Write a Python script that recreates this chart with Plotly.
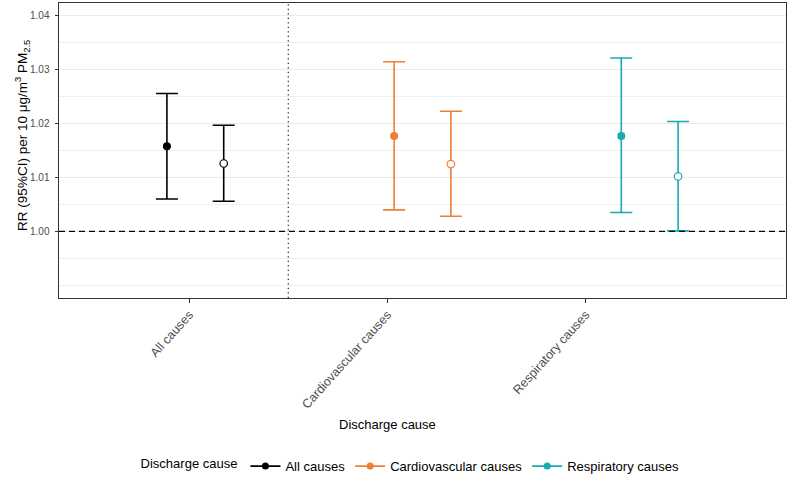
import plotly.graph_objects as go

# ---- data ----
categories = ["All causes", "Cardiovascular causes", "Respiratory causes"]
colors = ["#000000", "#EE7F36", "#17AAB4"]

# filled-point series
rr_a = [1.0158, 1.0177, 1.0177]
lo_a = [1.0060, 1.0040, 1.0035]
hi_a = [1.0256, 1.0315, 1.0322]

# open-point series
rr_b = [1.0126, 1.0125, 1.0102]
lo_b = [1.0056, 1.0028, 1.0001]
hi_b = [1.0197, 1.0223, 1.0204]

y_major = [1.00, 1.01, 1.02, 1.03, 1.04]
y_major_text = ["1.00", "1.01", "1.02", "1.03", "1.04"]
y_minor = [0.99, 0.995, 1.005, 1.015, 1.025, 1.035]

FONT = "Liberation Sans, Arial, sans-serif"
dodge = 0.125

fig = go.Figure()

for i, cat in enumerate(categories):
    pos = i + 1
    col = colors[i]
    # filled
    fig.add_trace(go.Scatter(
        x=[pos - dodge], y=[rr_a[i]], mode="markers", showlegend=False,
        marker=dict(color=col, size=8, line=dict(width=0)),
        error_y=dict(type="data", symmetric=False,
                     array=[hi_a[i] - rr_a[i]], arrayminus=[rr_a[i] - lo_a[i]],
                     color=col, thickness=1.6, width=11),
        hoverinfo="skip"))
    # open
    fig.add_trace(go.Scatter(
        x=[pos + dodge], y=[rr_b[i]], mode="markers", showlegend=False,
        marker=dict(color="white", size=7.5, line=dict(width=1.2, color=col)),
        error_y=dict(type="data", symmetric=False,
                     array=[hi_b[i] - rr_b[i]], arrayminus=[rr_b[i] - lo_b[i]],
                     color=col, thickness=1.6, width=11),
        hoverinfo="skip"))
    # legend entry
    fig.add_trace(go.Scatter(
        x=[None], y=[None], mode="lines+markers", name=cat,
        marker=dict(color=col, size=7), line=dict(color=col, width=1.6)))

# invisible trace on the label axis
fig.add_trace(go.Scatter(x=[1, 2, 3], y=[None, None, None], xaxis="x2",
                         mode="markers", showlegend=False, hoverinfo="skip"))

fig.update_layout(
    width=789, height=477,
    margin=dict(l=59, r=3, t=3, b=179, autoexpand=False),
    paper_bgcolor="white", plot_bgcolor="white",
    font=dict(family=FONT, color="#000000", size=13),
    xaxis=dict(range=[0.4, 3.6], showticklabels=False, ticks="",
               showgrid=False, zeroline=False, automargin=False,
               showline=True, mirror=True, linecolor="#333333", linewidth=1),
    xaxis2=dict(overlaying="x", anchor="y", side="bottom", automargin=False,
                range=[0.3426, 4.012], tickmode="array",
                tickvals=[1, 2, 3], ticktext=categories, tickangle=-48,
                ticks="outside", ticklen=3.5, tickcolor="#333333", tickwidth=1,
                tickfont=dict(family=FONT, size=12.5, color="#4D4D4D"),
                showgrid=False, zeroline=False, showline=False),
    yaxis=dict(range=[0.98763, 1.0424], tickmode="array", automargin=False,
               tickvals=y_major, ticktext=y_major_text,
               ticks="outside", ticklen=3.5, tickcolor="#333333", tickwidth=1,
               ticklabelstandoff=3,
               tickfont=dict(family=FONT, size=10, color="#4D4D4D"),
               showgrid=True, gridcolor="#EBEBEB", gridwidth=1,
               minor=dict(tickmode="array", tickvals=y_minor, showgrid=True,
                          gridcolor="#EFEFEF", gridwidth=0.7, ticks=""),
               zeroline=False,
               showline=True, mirror=True, linecolor="#333333", linewidth=1),
    legend=dict(orientation="h", xref="paper", yref="paper",
                x=0.485, xanchor="center", y=-0.570, yanchor="middle",
                title=dict(text="Discharge cause", side="left",
                           font=dict(size=13, color="#000000")),
                font=dict(size=13, color="#000000"),
                itemwidth=30, bgcolor="rgba(0,0,0,0)"),
    annotations=[
        dict(text="Discharge cause", xref="paper", yref="paper",
             x=(388 - 59) / 727.3, y=(298.3 - 424.5) / 295.3,
             xanchor="center", yanchor="middle", showarrow=False,
             font=dict(size=13, color="#000000")),
        dict(text="RR (95%CI) per 10 μg/m<sup>3</sup> PM<sub>2.5</sub>",
             xref="paper", yref="paper", textangle=-90,
             x=(22 - 59) / 727.3, y=(298.3 - 136) / 295.3,
             xanchor="center", yanchor="middle", showarrow=False,
             font=dict(size=13.5, color="#000000")),
    ],
    shapes=[
        dict(type="line", xref="paper", yref="y", x0=0, x1=1, y0=1.0, y1=1.0,
             line=dict(color="#000000", width=1.3, dash="6px,4px"), layer="above"),
        dict(type="line", xref="x2", yref="paper", x0=1.5, x1=1.5, y0=0, y1=1,
             line=dict(color="#333333", width=1.3, dash="1.3px,3.2px"), layer="above"),
    ],
)

fig.write_html("out.html", config={"displayModeBar": False},
               post_script="document.body.style.margin='0px';document.body.style.overflow='hidden';")
